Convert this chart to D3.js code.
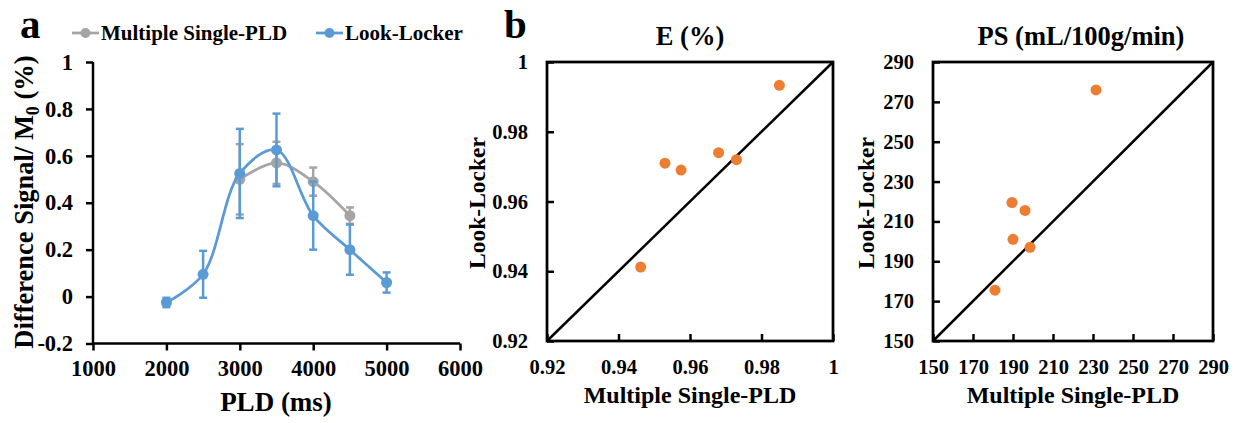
<!DOCTYPE html>
<html><head><meta charset="utf-8">
<script src="https://cdn.jsdelivr.net/npm/d3@7"></script>
</head>
<body style="margin:0;background:#fff"><svg id="c" width="1239" height="423"></svg>
<script>
// ---- Data ----
const pldMS = [3000, 3500, 4000, 4500];
const msValues = [0.50, 0.57, 0.49, 0.345];
const msErrors = [0.15, 0.09, 0.06, 0.035];
const pldLL = [2000, 2500, 3000, 3500, 4000, 4500, 5000];
const llValues = [-0.025, 0.095, 0.525, 0.625, 0.345, 0.20, 0.06];
const llErrors = [0.02, 0.10, 0.19, 0.155, 0.145, 0.107, 0.043];
const seriesNames = ["Multiple Single-PLD", "Look-Locker"];
const aXTicks = [1000, 2000, 3000, 4000, 5000, 6000];
const aYTicks = [-0.2, 0, 0.2, 0.4, 0.6, 0.8, 1];

const eMS = [0.9462, 0.953, 0.9575, 0.968, 0.973, 0.985];
const eLL = [0.9412, 0.971, 0.969, 0.974, 0.972, 0.9933];
const eTicks = [0.92, 0.94, 0.96, 0.98, 1];

const psMS = [231.5, 189.5, 196, 190, 198.5, 181];
const psLL = [276, 219.5, 215.5, 201, 197, 175.5];
const psTicks = [150, 170, 190, 210, 230, 250, 270, 290];

const FONT = "Liberation Serif";
const grey = "#A5A5A5", blue = "#5B9BD5", orange = "#ED7D31";
const svg = d3.select("#c");
const fmt = d => String(d);

// ---- Panel a ----
const ax = d3.scaleLinear().domain([1000, 6000]).range([93, 460]);
const ay = d3.scaleLinear().domain([-0.2, 1]).range([343.5, 62]);
const ga = svg.append("g");
const xAxA = ga.append("g").attr("transform", "translate(0,343.5)")
  .call(d3.axisBottom(ax).tickValues(aXTicks).tickFormat(fmt).tickSize(7).tickPadding(10));
const yAxA = ga.append("g").attr("transform", "translate(93,0)")
  .call(d3.axisLeft(ay).tickValues(aYTicks).tickFormat(fmt).tickSize(7).tickPadding(13));
[xAxA, yAxA].forEach(g => {
  g.select(".domain").attr("stroke", "#000").attr("stroke-width", 2.5);
  g.selectAll(".tick line").attr("stroke", "#000").attr("stroke-width", 2.5);
  g.selectAll(".tick text").style("font-size", "22.5px").attr("fill", "#000");
});
xAxA.select(".domain").attr("d", "M93,0H460");
yAxA.select(".domain").attr("d", "M0,62V343.5");

function drawSeries(xs, ys, es, color) {
  const g = ga.append("g");
  xs.forEach((x, i) => {
    const px = ax(x), top = ay(ys[i] + es[i]), bot = ay(ys[i] - es[i]);
    g.append("line").attr("x1", px).attr("x2", px).attr("y1", top).attr("y2", bot)
      .attr("stroke", color).attr("stroke-width", 2.5);
    [top, bot].forEach(yy => g.append("line").attr("x1", px - 4).attr("x2", px + 4)
      .attr("y1", yy).attr("y2", yy).attr("stroke", color).attr("stroke-width", 2.5));
  });
  const line = d3.line().x((d, i) => ax(xs[i])).y(d => ay(d)).curve(d3.curveCatmullRom.alpha(0.5));
  g.append("path").attr("d", line(ys)).attr("fill", "none").attr("stroke", color).attr("stroke-width", 2.75);
  g.selectAll("circle").data(ys).join("circle")
    .attr("cx", (d, i) => ax(xs[i])).attr("cy", d => ay(d)).attr("r", 5.5).attr("fill", color);
}
drawSeries(pldMS, msValues, msErrors, grey);
drawSeries(pldLL, llValues, llErrors, blue);

ga.append("text").attr("x", 276).attr("y", 411).attr("text-anchor", "middle").style("font-size", "27px").text("PLD (ms)");
const yl = ga.append("text").attr("transform", "translate(33,202) rotate(-90)").attr("text-anchor", "middle").style("font-size", "26.5px");
yl.append("tspan").text("Difference Signal/ M");
yl.append("tspan").attr("dy", 6).style("font-size", "18px").text("0");
yl.append("tspan").attr("dy", -6).text(" (%)");

const legend = [[seriesNames[0], grey, 72, 101], [seriesNames[1], blue, 316, 345]];
legend.forEach(([name, col, x0, tx]) => {
  ga.append("line").attr("x1", x0).attr("x2", x0 + 27).attr("y1", 33).attr("y2", 33).attr("stroke", col).attr("stroke-width", 2.75);
  ga.append("circle").attr("cx", x0 + 13.5).attr("cy", 33).attr("r", 5).attr("fill", col);
  ga.append("text").attr("x", tx).attr("y", 40).style("font-size", "21px").text(name);
});

svg.append("text").attr("x", 20).attr("y", 37.5).style("font-size", "41px").text("a");
svg.append("text").attr("x", 504).attr("y", 37.5).style("font-size", "41px").text("b");

// ---- Scatter panels ----
function scatter(x0, x1, domain, ticks, xs, ys, title, titleX, ylabX) {
  const g = svg.append("g");
  const sx = d3.scaleLinear().domain(domain).range([x0, x1]);
  const sy = d3.scaleLinear().domain(domain).range([341, 62]);
  const xa = g.append("g").attr("transform", "translate(0,341)")
    .call(d3.axisBottom(sx).tickValues(ticks).tickFormat(fmt).tickSize(-7).tickPadding(18));
  const ya = g.append("g").attr("transform", `translate(${x0},0)`)
    .call(d3.axisLeft(sy).tickValues(ticks).tickFormat(fmt).tickSize(-7).tickPadding(19));
  [xa, ya].forEach(a => {
    a.select(".domain").remove();
    a.selectAll(".tick line").attr("stroke", "#000").attr("stroke-width", 2.5);
    a.selectAll(".tick text").style("font-size", "20.5px").attr("fill", "#000");
  });
  g.append("rect").attr("x", x0).attr("y", 62).attr("width", x1 - x0).attr("height", 279)
    .attr("fill", "none").attr("stroke", "#000").attr("stroke-width", 2.75);
  g.append("line").attr("x1", sx(domain[0])).attr("y1", sy(domain[0]))
    .attr("x2", sx(domain[1])).attr("y2", sy(domain[1])).attr("stroke", "#000").attr("stroke-width", 2.5);
  g.selectAll("circle.p").data(xs).join("circle").attr("class", "p")
    .attr("cx", d => sx(d)).attr("cy", (d, i) => sy(ys[i])).attr("r", 5.5).attr("fill", orange);
  g.append("text").attr("x", titleX).attr("y", 45).attr("text-anchor", "middle").style("font-size", "26.5px").text(title);
  g.append("text").attr("x", (x0 + x1) / 2).attr("y", 403).attr("text-anchor", "middle").style("font-size", "24px").text("Multiple Single-PLD");
  g.append("text").attr("transform", `translate(${ylabX},203) rotate(-90)`).attr("text-anchor", "middle").style("font-size", "23.5px").text("Look-Locker");
}
scatter(547, 833, [0.92, 1], eTicks, eMS, eLL, "E (%)", 690, 485);
scatter(933, 1213, [150, 290], psTicks, psMS, psLL, "PS (mL/100g/min)", 1081, 874);

svg.selectAll("text").style("font-family", FONT).style("font-weight", "bold").attr("fill", "#000");
</script></body></html>
